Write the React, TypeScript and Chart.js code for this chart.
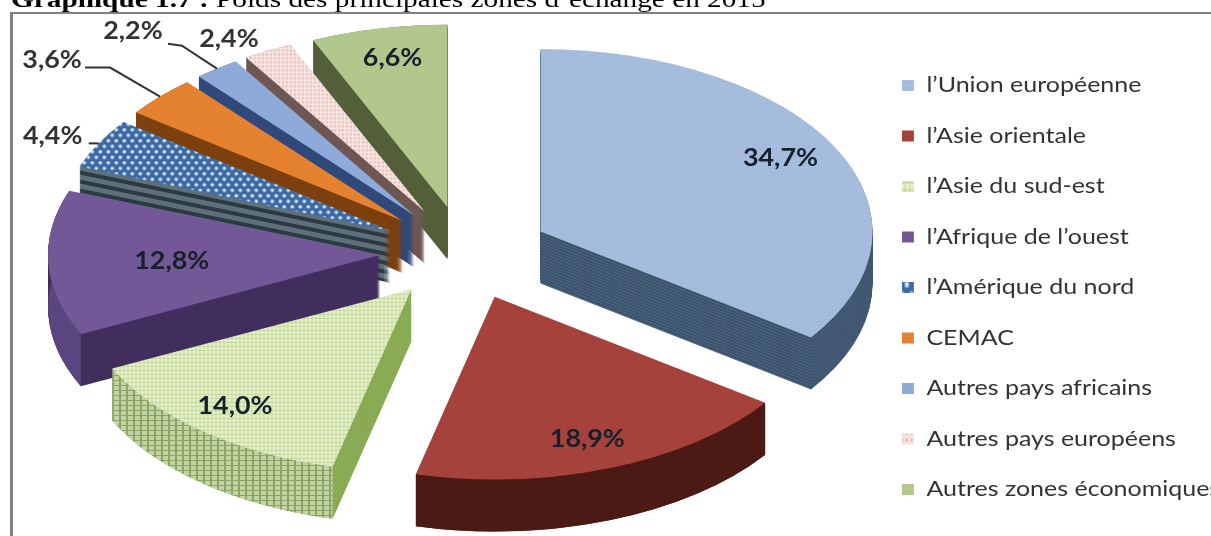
import React, { useEffect, useRef } from "react";
import { Chart, registerables } from "chart.js";

Chart.register(...registerables);

// Zones and their share of trade, in percent
const zones = [
  "l’Union européenne",
  "l’Asie orientale",
  "l’Asie du sud-est",
  "l’Afrique de l’ouest",
  "l’Amérique du nord",
  "CEMAC",
  "Autres pays africains",
  "Autres pays européens",
  "Autres zones économiques",
];
const shares = [34.7, 18.9, 14.0, 12.8, 4.4, 3.6, 2.2, 2.4, 6.6];

// Slice appearance
const flatColors = ["#a4bcdc", "#a5423c", "#dfeac6", "#725896", "#3f6da8", "#e5822f", "#8eaad8", "#f2dcd9", "#b2c78c"];
const radialWall = ["#364a62", "#4c1a14", "#8aab55", "#422f5e", "#2c3a44", "#7d400f", "#31497a", "#6e5752", "#525f38"];
const curvedWall = ["#364a62", "#4c1a14", "#a9c085", "#5b4580", "#2c3a44", "#7d400f", "#31497a", "#6e5752", "#525f38"];
const stripeColor = ["#48607a", null, null, null, "#5f707b", null, null, null, null];
const stripePeriod = [3, 0, 0, 0, 9, 0, 0, 0, 0];

// Back slices are painted before front ones
const paintOrder = [8, 7, 6, 5, 4, 3, 0, 2, 1];

// Pie projection
const PIE_CENTER_X = 465;
const PIE_CENTER_Y = 253;
const RADIUS = 332;
const SQUASH = 0.55;
const DEPTH = 52;
const EXPLODE = 85;

// Horizontal widening applied to the heading, legend and percent labels
const TITLE_STRETCH = 1.22;
const LEGEND_STRETCH = 1.19;
const LABEL_STRETCH = 1.12;
const LEGEND_X = 902;

// Value labels: inside ones sit at a fraction of the radius, outer ones are shifted from the rim
const labelFraction = [0.82, 0.8, 0.82, 0.64, null, null, null, null, 0.8];
const labelNudge = [[-2, -5], [0, 6], [-5, 1], [4, 1], null, null, null, null, [0, -6]];
const labelShift = [null, null, null, null, [-46, -7], [-108, -36], [-84, -37], [-39, -12], null];
const leaderBend = [null, null, null, null, null, [-50, -29], [-35, -23], null, null];
const leaderEnd = [null, null, null, null, [-10, 0], [-75, -29], [-49, -25], null, null];

function tile(w: number, h: number, paint: (c: CanvasRenderingContext2D) => void, squashed = true) {
  const off = document.createElement("canvas");
  off.width = w;
  off.height = h;
  const c = off.getContext("2d")!;
  paint(c);
  const pattern = c.createPattern(off, "repeat")!;
  if (squashed) pattern.setTransform(new DOMMatrix().scale(1, 1 / SQUASH));
  return pattern;
}

function makeFills() {
  const union = tile(3, 3, (c) => {
    c.fillStyle = "#a6bedd";
    c.fillRect(0, 0, 3, 3);
    c.fillStyle = "#9ab3d6";
    c.fillRect(0, 0, 1, 1);
  });
  const seAsia = tile(4, 4, (c) => {
    c.fillStyle = "#e6efd2";
    c.fillRect(0, 0, 4, 4);
    c.fillStyle = "#c6da9c";
    c.fillRect(0, 0, 4, 1);
    c.fillRect(0, 0, 1, 4);
  });
  const america = tile(8, 11, (c) => {
    c.fillStyle = "#3c69a4";
    c.fillRect(0, 0, 8, 11);
    c.fillStyle = "#d8e8f8";
    for (const [x, y] of [[2, 2.5], [6, 8]]) {
      c.beginPath();
      c.arc(x, y, 1.8, 0, Math.PI * 2);
      c.fill();
    }
  });
  const europe = tile(4, 4, (c) => {
    c.fillStyle = "#f5e3e0";
    c.fillRect(0, 0, 4, 4);
    c.fillStyle = "#e6bdb7";
    c.fillRect(1, 1, 2, 2);
  });
  const fills: (string | CanvasPattern)[] = [...flatColors];
  fills[0] = union;
  fills[2] = seAsia;
  fills[4] = america;
  fills[7] = europe;
  return fills;
}

function makeGridWall() {
  return tile(7, 5, (c) => {
    c.fillStyle = "#c3d4a2";
    c.fillRect(0, 0, 7, 5);
    c.fillStyle = "#8ba568";
    c.fillRect(0, 0, 7, 1);
    c.fillRect(0, 0, 2, 5);
  }, false);
}

const sliceGeometry = (el: any) => {
  const mid = (el.startAngle + el.endAngle) / 2;
  const apexX = PIE_CENTER_X + Math.cos(mid) * EXPLODE;
  const apexY = PIE_CENTER_Y + Math.sin(mid) * EXPLODE * SQUASH;
  return {
    mid,
    apexX,
    apexY,
    rimX: apexX + Math.cos(mid) * el.outerRadius,
    rimY: apexY + Math.sin(mid) * el.outerRadius * SQUASH,
  };
};

const App = () => {
  const ref = useRef<HTMLCanvasElement>(null);

  useEffect(() => {
    const fills = makeFills();
    const gridWall = makeGridWall();

    const pie3d = {
      id: "pie3d",
      // Frame and heading sit behind the pie
      beforeDraw(chart: any) {
        const { ctx } = chart;
        ctx.save();
        ctx.fillStyle = "#ffffff";
        ctx.fillRect(0, 0, chart.width, chart.height);
        ctx.fillStyle = "#808080";
        ctx.fillRect(10, 12, chart.width - 10, 2);
        ctx.fillRect(10, 12, 3, chart.height - 12);
        ctx.fillStyle = "#000000";
        ctx.textBaseline = "alphabetic";
        ctx.translate(11, 7);
        ctx.scale(TITLE_STRETCH, 1);
        ctx.font = "bold 24px 'Liberation Serif'";
        const lead = "Graphique 1.7 : ";
        ctx.fillText(lead, 0, 0);
        const w = ctx.measureText(lead).width;
        ctx.font = "24px 'Liberation Serif'";
        ctx.fillText("Poids des principales zones d’échange en 2015", w, 0);
        ctx.restore();
      },
      // Extrudes each arc downward, then lays its flat top over the walls
      beforeDatasetDraw(chart: any) {
        const { ctx } = chart;
        const arcs = chart.getDatasetMeta(0).data;
        for (const i of paintOrder) {
          const el = arcs[i];
          const { apexX, apexY } = sliceGeometry(el);
          const project = (drop: number) => {
            ctx.translate(apexX, apexY + drop);
            ctx.scale(1, SQUASH);
            ctx.translate(-el.x, -el.y);
          };
          const base = el.options;
          const drawArc = (color: string | CanvasPattern, drop: number) => {
            el.options = Object.create(base, {
              backgroundColor: { value: color },
            });
            ctx.save();
            project(drop);
            el.draw(ctx);
            ctx.restore();
            el.options = base;
          };
          for (let d = DEPTH; d >= 1; d--) {
            const stripes = stripePeriod[i];
            const light = stripes && d % stripes < stripes / 2.2;
            drawArc(light ? (stripeColor[i] as string) : radialWall[i], d);
          }
          // Rim band between the top edge and the bottom edge of the arc
          ctx.save();
          ctx.beginPath();
          ctx.save();
          project(0);
          ctx.arc(el.x, el.y, el.outerRadius, el.startAngle, el.endAngle);
          ctx.restore();
          ctx.save();
          project(DEPTH);
          ctx.arc(el.x, el.y, el.outerRadius, el.endAngle, el.startAngle, true);
          ctx.restore();
          ctx.closePath();
          if (!stripePeriod[i]) {
            ctx.fillStyle = i === 2 ? gridWall : curvedWall[i];
            ctx.fill();
          }
          ctx.restore();
          drawArc(fills[i], 0);
        }
        return false;
      },
      // Percent labels and their leader lines
      afterDraw(chart: any) {
        const { ctx } = chart;
        const arcs = chart.getDatasetMeta(0).data;
        ctx.save();
        ctx.font = "bold 24px Lato";
        ctx.textAlign = "center";
        ctx.textBaseline = "middle";
        shares.forEach((share, i) => {
          const el = arcs[i];
          const g = sliceGeometry(el);
          let x: number;
          let y: number;
          const f = labelFraction[i];
          const shift = labelShift[i];
          if (f !== null) {
            const nudge = labelNudge[i]!;
            x = g.apexX + (g.rimX - g.apexX) * f + nudge[0];
            y = g.apexY + (g.rimY - g.apexY) * f + nudge[1];
            ctx.fillStyle = "#16202c";
          } else {
            x = g.rimX + shift![0];
            y = g.rimY + shift![1];
            ctx.fillStyle = "#333333";
          }
          ctx.save();
          ctx.translate(x, y);
          ctx.scale(LABEL_STRETCH, 1);
          ctx.fillText(share.toFixed(1).replace(".", ",") + "%", 0, 0);
          ctx.restore();
          const end = leaderEnd[i];
          if (end) {
            const bend = leaderBend[i];
            ctx.beginPath();
            ctx.moveTo(g.rimX + end[0], g.rimY + end[1]);
            if (bend) ctx.lineTo(g.rimX + bend[0], g.rimY + bend[1]);
            ctx.lineTo(g.rimX, g.rimY);
            ctx.strokeStyle = "#333333";
            ctx.lineWidth = 2;
            ctx.stroke();
          }
        });
        ctx.restore();
      },
      // Legend column anchored beside the pie and widened like the other text
      afterLayout(chart: any) {
        const legend = chart.legend;
        const pad = legend.options.labels.padding;
        legend.left = LEGEND_X - pad;
        legend.right = chart.width + 300;
        legend.top = 45.5;
        legend.bottom = chart.height + 100;
        if (!legend.__widened) {
          legend.__widened = true;
          const drawLegend = legend.draw.bind(legend);
          legend.draw = (area: any) => {
            const { ctx } = chart;
            ctx.save();
            ctx.translate(LEGEND_X, 0);
            ctx.scale(LEGEND_STRETCH, 1);
            ctx.translate(-LEGEND_X, 0);
            drawLegend(area);
            ctx.restore();
          };
        }
      },
    };

    const chart = new Chart(ref.current!, {
      type: "pie",
      data: {
        labels: zones,
        datasets: [
          {
            data: shares,
            backgroundColor: fills,
            borderWidth: 0,
            radius: RADIUS,
          } as any,
        ],
      },
      options: {
        responsive: false,
        animation: false,
        plugins: {
          legend: {
            position: "right",
            align: "start",
            labels: {
              boxWidth: 10,
              boxHeight: 11,
              padding: 29.5,
              color: "#333333",
              font: { family: "Lato", size: 21 },
            },
          },
          tooltip: { enabled: false },
        },
      },
      plugins: [pie3d as any],
    });
    return () => chart.destroy();
  }, []);

  return (
    <canvas
      ref={ref}
      width={1211}
      height={536}
      style={{ position: "absolute", left: 0, top: 0, width: 1211, height: 536 }}
    />
  );
};

export default App;
